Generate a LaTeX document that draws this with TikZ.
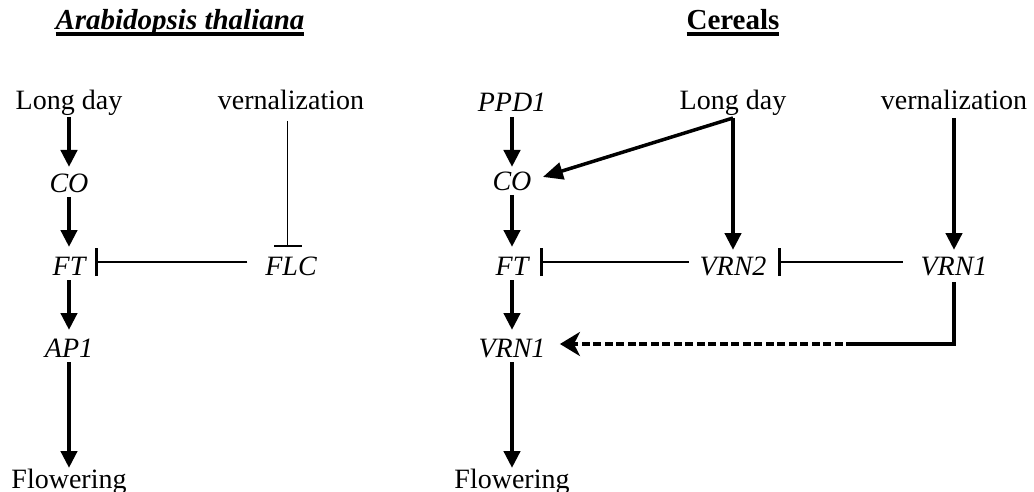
\documentclass[tikz,border=0pt]{standalone}
\usepackage{fontspec}
\setmainfont{Liberation Serif}
\usetikzlibrary{arrows.meta}
\begin{document}
\begin{tikzpicture}[x=1pt,y=-1pt,
 lbl/.style={font=\fontsize{28}{34}\selectfont, inner sep=0pt, outer sep=0pt, anchor=base, text height=19pt, text depth=0pt},
 gene/.style={lbl, font=\fontsize{28}{34}\selectfont\itshape},
 act/.style={line width=4.5pt, -{Triangle[length=17pt,width=16pt]}},
 inh/.style={line width=1.3pt, -{Bar[width=28pt,line width=2.5pt]}},
 ttl/.style={font=\fontsize{29}{34}\selectfont\bfseries, inner sep=0pt, outer sep=0pt, anchor=base},
 uline/.style={line width=3.5pt}
]
\useasboundingbox (0,0) rectangle (1034,492);

% titles
\node[ttl, font=\fontsize{29}{34}\selectfont\bfseries\itshape] (t1) at (180,30) {Arabidopsis thaliana};
\draw[uline] ([yshift=-4pt]t1.base west) -- ([yshift=-4pt]t1.base east);
\node[ttl] (t2) at (733,30) {Cereals};
\draw[uline] ([yshift=-4pt]t2.base west) -- ([yshift=-4pt]t2.base east);

% left panel
\node[lbl]  (ld1) at (69,110) {Long day};
\node[gene] (co1) at (69,193) {CO};
\node[gene] (ft1) at (69,275) {FT};
\node[gene] (ap1) at (69,357) {AP1};
\node[lbl]  (fl1) at (69,488) {Flowering};
\node[lbl]  (vn1) at (291,110) {vernalization};
\node[gene] (flc) at (291,275) {FLC};

\draw[act, shorten <=7pt, shorten >=7pt] (ld1.south) -- (co1.north);
\draw[act, shorten <=4pt, shorten >=9pt] (co1.south) -- (ft1.north);
\draw[act, shorten <=5pt, shorten >=8pt] (ft1.south) -- (ap1.north);
\draw[act, shorten <=5pt, shorten >=1pt] (ap1.south) -- (fl1.north);
\draw[inh, shorten <=11pt, shorten >=9pt] ([xshift=-3.5pt]vn1.south) -- ([xshift=-3.5pt]flc.north);
\draw[inh, shorten <=18pt, shorten >=9.7pt] ([yshift=3.5pt]flc.west) -- ([yshift=3.5pt]ft1.east);

% right panel
\node[gene] (ppd)   at (512,112) {PPD1};
\node[lbl]  (ld2)   at (733,110) {Long day};
\node[lbl]  (vn2)   at (954,110) {vernalization};
\node[gene] (co2)   at (512,190) {CO};
\node[gene] (ft2)   at (512,275) {FT};
\node[gene] (vrn2)  at (733,275) {VRN2};
\node[gene] (vrn1r) at (954,275) {VRN1};
\node[gene] (vrn1)  at (512,357) {VRN1};
\node[lbl]  (fl2)   at (512,488) {Flowering};

\draw[act, shorten <=5pt, shorten >=4pt] (ppd.south) -- (co2.north);
\draw[act, shorten <=5pt, shorten >=9pt] (co2.south) -- (ft2.north);
\draw[act, shorten <=5pt, shorten >=8pt] (ft2.south) -- (vrn1.north);
\draw[act, shorten <=5pt, shorten >=1pt] (vrn1.south) -- (fl2.north);
\draw[act, shorten <=8pt, shorten >=6pt] (ld2.south) -- (vrn2.north);
\draw[act, shorten <=8pt, shorten >=6pt] (vn2.south) -- (vrn1r.north);
\draw[line width=3.5pt, -{Triangle[length=20pt,width=17pt]}, shorten >=12pt] ([yshift=-8pt]ld2.south) -- (co2.east);
\draw[inh, shorten <=10.6pt, shorten >=11.7pt] ([yshift=3.5pt]vrn2.west) -- ([yshift=3.5pt]ft2.east);
\draw[inh, shorten <=17.6pt, shorten >=11.6pt] ([yshift=3.5pt]vrn1r.west) -- ([yshift=3.5pt]vrn2.east);

\coordinate (sw) at (854,344);
\draw[line width=3.5pt, shorten <=7pt] (vrn1r.south) |- (sw);
\draw[line width=4.5pt, dash pattern=on 8pt off 3.5pt, -{Stealth[length=20pt,width=24pt,inset=6pt]}, shorten >=14.5pt] (sw) -- (sw -| vrn1.east);
\end{tikzpicture}
\end{document}
